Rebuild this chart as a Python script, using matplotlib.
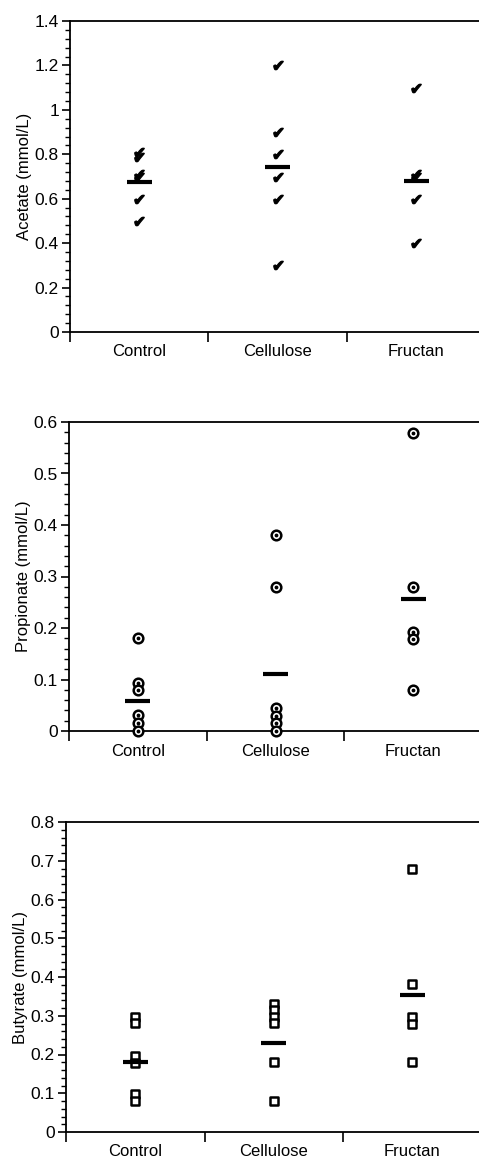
import numpy as np
from matplotlib import pyplot as plt
from matplotlib.ticker import MultipleLocator, AutoMinorLocator

plt.rcParams['font.family'] = ['Liberation Sans', 'DejaVu Sans']

groups = ["Control", "Cellulose", "Fructan"]

# values (mmol/L)
acetate_control = [0.81, 0.79, 0.71, 0.70, 0.60, 0.50]
acetate_cellulose = [1.20, 0.90, 0.80, 0.70, 0.60, 0.30]
acetate_fructan = [1.10, 0.71, 0.70, 0.60, 0.40]
acetate_means = [0.675, 0.743, 0.68]

propionate_control = [0.18, 0.094, 0.080, 0.031, 0.015, 0.0]
propionate_cellulose = [0.38, 0.28, 0.044, 0.029, 0.015, 0.0]
propionate_fructan = [0.579, 0.28, 0.193, 0.178, 0.08]
propionate_means = [0.058, 0.11, 0.257]

butyrate_control = [0.298, 0.281, 0.197, 0.179, 0.098, 0.079]
butyrate_cellulose = [0.33, 0.315, 0.298, 0.281, 0.18, 0.079]
butyrate_fructan = [0.68, 0.382, 0.298, 0.278, 0.18]
butyrate_means = [0.18, 0.229, 0.353]

W, H = 479, 1161
fig = plt.figure(figsize=(W / 100, H / 100), dpi=100)


def make_axes(left, top, bottom, spacing):
    return fig.add_axes([left / W, 1 - bottom / H, 3 * spacing / W, (bottom - top) / H])


def style_axes(ax, ymax, major, ylabel):
    ax.set_xlim(0, 3)
    ax.set_ylim(0, ymax)
    ax.spines['right'].set_visible(False)
    for s in ax.spines.values():
        s.set_linewidth(1.3)
    ax.set_xticks([0, 1, 2, 3])
    ax.set_xticklabels([])
    ax.set_xticks([0.5, 1.5, 2.5], minor=True)
    ax.set_xticklabels(groups, minor=True, fontsize=12)
    ax.tick_params(axis='x', which='major', direction='out', length=7, width=1.2)
    ax.tick_params(axis='x', which='minor', length=0, pad=9)
    ax.yaxis.set_major_locator(MultipleLocator(major))
    ax.yaxis.set_minor_locator(AutoMinorLocator(5))
    ax.tick_params(axis='y', which='major', direction='out', length=6, width=1.2, labelsize=12.5, pad=2)
    ax.tick_params(axis='y', which='minor', direction='out', length=3.5, width=1.0)
    ax.yaxis.set_major_formatter(plt.FuncFormatter(lambda v, p: f"{v:g}"))
    ax.set_ylabel(ylabel, fontsize=12, labelpad=2)


def mean_bars(ax, means):
    xs = np.arange(len(means)) + 0.5
    ax.hlines(means, xs - 0.09, xs + 0.09, colors='black', linewidth=3, zorder=4)


# Acetate
ax1 = make_axes(70, 21, 332, 138.5)
for i, vals in enumerate([acetate_control, acetate_cellulose, acetate_fructan]):
    ax1.scatter(np.full(len(vals), i + 0.5), vals, marker="$\u2714$", s=46,
                color='black', linewidths=0.9, zorder=3)
mean_bars(ax1, acetate_means)
style_axes(ax1, 1.4, 0.2, "Acetate (mmol/L)")

# Propionate
ax2 = make_axes(69, 422, 731, 137.7)
for i, vals in enumerate([propionate_control, propionate_cellulose, propionate_fructan]):
    x = np.full(len(vals), i + 0.5)
    ax2.scatter(x, vals, marker='o', s=48, facecolors='white', edgecolors='black',
                linewidths=1.8, zorder=3, clip_on=False)
    ax2.scatter(x, vals, marker='o', s=3, color='black', zorder=4, clip_on=False)
mean_bars(ax2, propionate_means)
style_axes(ax2, 0.6, 0.1, "Propionate (mmol/L)")

# Butyrate
ax3 = make_axes(66, 822, 1132, 138.5)
for i, vals in enumerate([butyrate_control, butyrate_cellulose, butyrate_fructan]):
    ax3.scatter(np.full(len(vals), i + 0.5), vals, marker='s', s=34, facecolors='white',
                edgecolors='black', linewidths=1.8, zorder=3)
mean_bars(ax3, butyrate_means)
style_axes(ax3, 0.8, 0.1, "Butyrate (mmol/L)")

fig.savefig("out.png", dpi=100)
